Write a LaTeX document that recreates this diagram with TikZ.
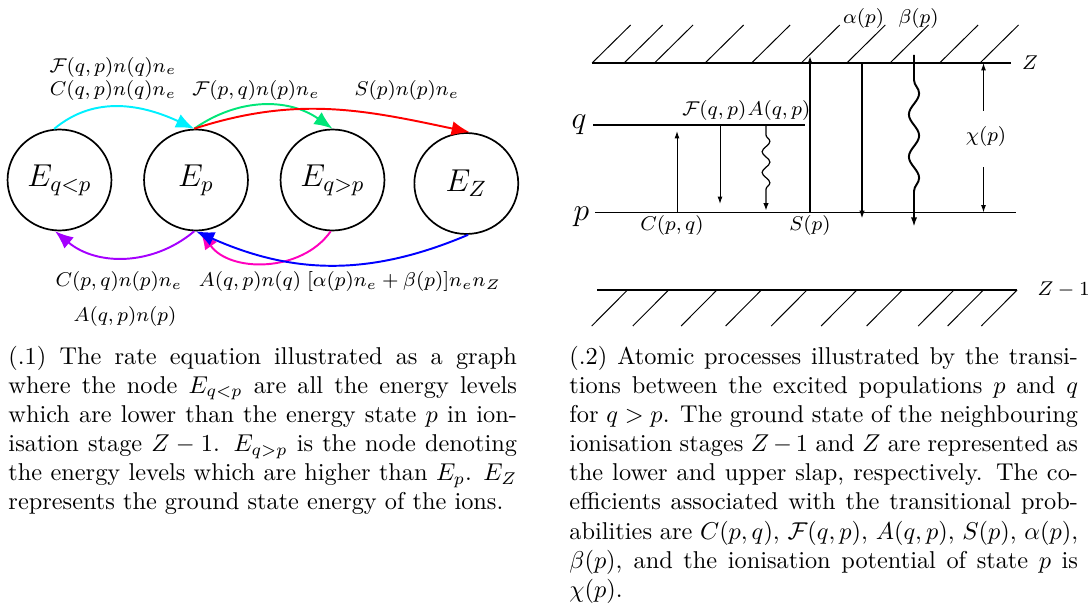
\RequirePackage{fix-cm}
\documentclass[tikz,border=0pt]{standalone}
\usetikzlibrary{arrows.meta,shapes.geometric,decorations.pathmorphing}
\definecolor{ccyan}{RGB}{0,240,255}
\definecolor{cgreen}{RGB}{0,230,120}
\definecolor{cpurple}{RGB}{165,0,255}
\definecolor{cpink}{RGB}{255,0,190}
\newcommand\capline[1]{\makebox[\linewidth][s]{#1}}
\begin{document}
\begin{tikzpicture}[x=0.411pt,y=-0.411pt,
  state/.style={draw, ellipse, line width=0.7pt, minimum width=42.7pt, minimum height=41.5pt, inner sep=0pt, font=\fontsize{13}{15}\selectfont},
  lbl/.style={font=\fontsize{8.2}{10}\selectfont, inner sep=0pt},
  biglbl/.style={font=\fontsize{13}{15}\selectfont, inner sep=0pt},
  flow/.style={line width=0.8pt, -{Latex[length=7.5pt,width=6pt]}},
  level/.style={line width=0.6pt},
  hatch/.style={line width=0.4pt},
  thinarrow/.style={line width=0.4pt, -{Latex[length=3pt,width=2pt]}},
  midarrow/.style={line width=0.55pt, -{Latex[length=3.2pt,width=2.2pt]}},
  caption/.style={anchor=base west, inner sep=0pt, font=\fontsize{10}{12}\selectfont}]
\useasboundingbox (0,0) rectangle (1089,610);

% ---------------- left: graph ----------------
\node[state] (Eqlp) at (59.5,180) {$E_{q<p}$};
\node[state] (Ep)   at (196,180)  {$E_p$};
\node[state] (Eqgp) at (332.5,180) {$E_{q>p}$};
\node[state] (EZ)   at (466.3,183.5) {$E_Z$};

\draw[flow, ccyan]  (Eqlp.96) to[out=40,in=155] (Ep.92);
\draw[flow, cgreen] (Ep.92) to[out=35,in=145] (Eqgp.90);
\draw[flow, red]    (Ep.92) to[out=18,in=168] (EZ.86);
\draw[flow, cpurple] (Ep.268) to[out=220,in=-40] (Eqlp.265);
\draw[flow, cpink]  (Eqgp.268) to[out=235,in=-55] (Ep.275);
\draw[flow, blue]   (EZ.272) to[out=203,in=-24] (Ep.270);

\node[lbl] (l1) at (113,67.5) {$\mathcal{F}(q,p)n(q)n_e$};
\node[lbl] (l2) at (113,91)   {$C(q,p)n(q)n_e$};
\node[lbl] (l3) at (256,91)   {$\mathcal{F}(p,q)n(p)n_e$};
\node[lbl] (l4) at (407,91)   {$S(p)n(p)n_e$};
\node[lbl] (l5) at (119,282)  {$C(p,q)n(p)n_e$};
\node[lbl] (l6) at (250,282)  {$A(q,p)n(q)$};
\node[lbl] (l7) at (404,282)  {$[\alpha(p)n_e+\beta(p)]n_en_Z$};
\node[lbl] (l8) at (125,317)  {$A(q,p)n(p)$};

% ---------------- right: levels ----------------
\coordinate (zL) at (592,63);   \coordinate (zR) at (1011,63);
\coordinate (qL) at (593,125);  \coordinate (qR) at (805,125);
\coordinate (pL) at (595,212.5);\coordinate (pR) at (1015.5,212.5);
\coordinate (yL) at (597,290);  \coordinate (yR) at (1017,290);
\draw[level] (zL) -- (zR);
\draw[level] (qL) -- (qR);
\draw[level] (pL) -- (pR);
\draw[level] (yL) -- (yR);
\foreach \x in {592.1,624.1,654.5,705.1,751.6,801.2,846.8,890,939.6,980}
  \draw[hatch] (\x,63) -- ++(38.5,-38);
\foreach \x in {627.5,668.6,716.9,761.4,807,856.9,902.4,954,983.4,1017.1}
  \draw[hatch] (\x,290) -- ++(-35.8,36);

\node[biglbl] (qlab) at (579,125) {$q$};
\node[biglbl] (plab) at (581.5,216.7) {$p$};
\node[lbl] (Zlab) at (1030,62.5) {$Z$};
\node[lbl, anchor=west] (Z1lab) at (1037,290) {$Z-1$};

% C(p,q) up
\coordinate (c0) at (677,212.5); \coordinate (c1) at (677,131);
\draw[thinarrow] (c0) -- (c1);
% F(q,p) down
\coordinate (f0) at (720,125); \coordinate (f1) at (720,204);
\draw[thinarrow] (f0) -- (f1);
% A(q,p) wavy
\coordinate (a0) at (766,125); \coordinate (a1) at (766,210.5);
\draw[line width=0.5pt, -{Latex[length=3pt,width=2.2pt]}, decorate,
  decoration={snake, amplitude=1.6pt, segment length=8.5pt, pre length=4.1pt, post length=5.3pt}] (a0) -- (a1);
% S(p) up
\coordinate (s0) at (810,212.5); \coordinate (s1) at (810,56);
\draw[midarrow] (s0) -- (s1);
% alpha down
\coordinate (al0) at (862,63); \coordinate (al1) at (862,218.5);
\draw[midarrow] (al0) -- (al1);
% beta wavy
\coordinate (b0) at (914,55); \coordinate (b1) at (914,227);
\draw[line width=0.8pt, -{Latex[length=4pt,width=2.6pt]}, decorate,
  decoration={snake, amplitude=2.1pt, segment length=17.4pt, pre length=10.3pt, post length=8.2pt}] (b0) -- (b1);
% chi(p)
\node[lbl] (chi) at (986,137) {$\chi(p)$};
\coordinate (x0) at (983.5,111); \coordinate (x1) at (983.5,63);
\coordinate (x2) at (983.5,167); \coordinate (x3) at (983.5,212.5);
\draw[thinarrow] (x0) -- (x1);
\draw[thinarrow] (x2) -- (x3);

\node[lbl] (Flab) at (714.3,111) {$\mathcal{F}(q,p)$};
\node[lbl] (Alab) at (779,111) {$A(q,p)$};
\node[lbl] (Clab) at (672,225.5) {$C(p,q)$};
\node[lbl] (Slab) at (810,225.5) {$S(p)$};
\node[lbl] (alab) at (863.6,18.5) {$\alpha(p)$};
\node[lbl] (blab) at (918.6,18.5) {$\beta(p)$};

% ---------------- captions ----------------
\node[caption] (cap1) at (8,364) {\parbox[t]{209pt}{%
\capline{(.1) The rate equation illustrated as a graph}\\
\capline{where the node $E_{q<p}$ are all the energy levels}\\
\capline{which are lower than the energy state $p$ in ion-}\\
\capline{isation stage $Z-1$. $E_{q>p}$ is the node denoting}\\
\capline{the energy levels which are higher than $E_p$. $E_Z$}\\
represents the ground state energy of the ions.}};

\node[caption] (cap2) at (569,364) {\parbox[t]{209pt}{%
\capline{(.2) Atomic processes illustrated by the transi-}\\
\capline{tions between the excited populations $p$ and $q$}\\
\capline{for $q>p$. The ground state of the neighbouring}\\
\capline{ionisation stages $Z-1$ and $Z$ are represented as}\\
\capline{the lower and upper slap, respectively. The co-}\\
\capline{efficients associated with the transitional prob-}\\
\capline{abilities are $C(p,q)$, $\mathcal{F}(q,p)$, $A(q,p)$, $S(p)$, $\alpha(p)$,}\\
\capline{$\beta(p)$, and the ionisation potential of state $p$ is}\\
$\chi(p)$.}};
\end{tikzpicture}
\end{document}
